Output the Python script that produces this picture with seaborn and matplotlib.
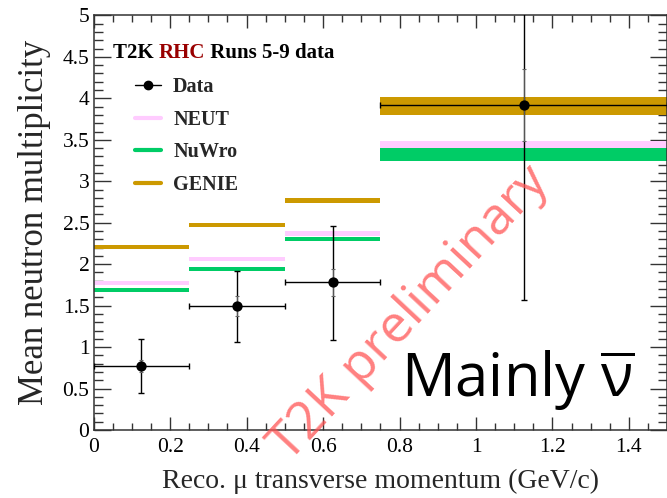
import numpy as np
import pandas as pd
import matplotlib
matplotlib.use("Agg")
import matplotlib.pyplot as plt
import seaborn as sns
from matplotlib.lines import Line2D
from matplotlib.ticker import MultipleLocator

# ---------------- data ----------------
bin_lo = [0.0, 0.25, 0.5, 0.75]
bin_hi = [0.25, 0.5, 0.75, 1.5]
bin_center = [0.125, 0.375, 0.625, 1.125]

data_y = [0.775, 1.50, 1.78, 3.92]
data_err_low = [0.33, 0.44, 0.69, 2.35]
data_err_high = [0.32, 0.42, 0.68, 1.55]
data_stat_err = [0.07, 0.12, 0.16, 0.43]

neut_y = [1.77, 2.06, 2.37, 3.445]
neut_hw = [0.025, 0.022, 0.027, 0.045]
nuwro_y = [1.69, 1.94, 2.30, 3.32]
nuwro_hw = [0.02, 0.022, 0.026, 0.08]
genie_y = [2.21, 2.475, 2.77, 3.91]
genie_hw = [0.022, 0.024, 0.032, 0.11]

legend_labels = ["Data", "NEUT", "NuWro", "GENIE"]
colors = {"NEUT": "#ffccff", "NuWro": "#00cc66", "GENIE": "#cc9900"}

x_label = "Reco. \u03bc transverse momentum (GeV/c)"
y_label = "Mean neutron multiplicity"

# ---------------- style ----------------
sns.set_theme(style="ticks")
plt.rcParams["font.family"] = ["Liberation Serif", "DejaVu Serif"]
plt.rcParams["mathtext.fontset"] = "custom"
plt.rcParams["mathtext.rm"] = "Open Sans"
plt.rcParams["mathtext.it"] = "Open Sans:italic"

fig = plt.figure(figsize=(6.67, 4.98), dpi=100)
ax = fig.add_axes([0.1403, 0.1365, 0.860, 0.8325])

df = pd.DataFrame({"x": bin_center, "y": data_y})

# model bands
for name, yv, hw in [("NEUT", neut_y, neut_hw), ("NuWro", nuwro_y, nuwro_hw), ("GENIE", genie_y, genie_hw)]:
    for lo, hi, c, h in zip(bin_lo, bin_hi, yv, hw):
        ax.fill_between([lo, hi], [c - h, c - h], [c + h, c + h], color=colors[name], lw=0, zorder=2)

# data error bars
xerr = [np.array(bin_center) - np.array(bin_lo), np.array(bin_hi) - np.array(bin_center)]
ax.errorbar(bin_center, data_y, xerr=xerr, yerr=[data_err_low, data_err_high], fmt="none",
            ecolor="black", elinewidth=1.0, capsize=2.5, capthick=1.0, zorder=4)
ax.errorbar(bin_center, data_y, yerr=data_stat_err, fmt="none", ecolor="#666666",
            elinewidth=0.6, capsize=1.5, capthick=0.8, zorder=4)
sns.scatterplot(data=df, x="x", y="y", ax=ax, color="black", s=55, edgecolor="black",
                linewidth=0, zorder=5, legend=False)

ax.set_xlim(0, 1.5)
ax.set_ylim(0, 5)
ax.set_xlabel(x_label, fontsize=20, labelpad=8)
ax.set_ylabel(y_label, fontsize=25, labelpad=8)

ax.xaxis.set_major_locator(MultipleLocator(0.2))
ax.xaxis.set_minor_locator(MultipleLocator(0.05))
ax.yaxis.set_major_locator(MultipleLocator(0.5))
ax.yaxis.set_minor_locator(MultipleLocator(0.1))
ax.set_xticks([0, 0.2, 0.4, 0.6, 0.8, 1.0, 1.2, 1.4])
ax.set_xticklabels(["0", "0.2", "0.4", "0.6", "0.8", "1", "1.2", "1.4"])
ax.set_yticks([0, 0.5, 1, 1.5, 2, 2.5, 3, 3.5, 4, 4.5, 5])
ax.set_yticklabels(["0", "0.5", "1", "1.5", "2", "2.5", "3", "3.5", "4", "4.5", "5"])
ax.tick_params(axis="both", which="both", direction="in", top=True, right=True,
               labelsize=15.5, colors="#333333", labelcolor="black", width=1.0)
ax.tick_params(axis="x", which="major", length=9.5, pad=6)
ax.tick_params(axis="x", which="minor", length=5)
ax.tick_params(axis="y", which="major", length=12, pad=3)
ax.tick_params(axis="y", which="minor", length=6.5)
for s in ax.spines.values():
    s.set_visible(True)
    s.set_color("#333333")
    s.set_linewidth(1.1)

# legend
handles = [
    Line2D([0], [0], color="black", lw=1.0, marker="o", markersize=6),
    Line2D([0], [0], color=colors["NEUT"], lw=3),
    Line2D([0], [0], color=colors["NuWro"], lw=3),
    Line2D([0], [0], color=colors["GENIE"], lw=3),
]
leg = ax.legend(handles, legend_labels, loc="upper left", bbox_to_anchor=(0.072, 0.851),
                frameon=False, borderpad=0, borderaxespad=0, handlelength=1.3,
                handletextpad=0.6, labelspacing=0.62,
                prop={"family": "Liberation Serif", "weight": "bold", "size": 14.5})

# header with mixed colours
fig.canvas.draw()
r = fig.canvas.get_renderer()
hy = 0.909
t1 = ax.text(0.034, hy, "T2K ", transform=ax.transAxes, fontsize=15, fontweight="bold",
             va="center", ha="left", color="black")
bb = t1.get_window_extent(r)
inv = ax.transAxes.inverted()
x2 = inv.transform((bb.x1, bb.y0))[0]
t2 = ax.text(x2, hy, "RHC", transform=ax.transAxes, fontsize=15, fontweight="bold",
             va="center", ha="left", color="#990000")
bb = t2.get_window_extent(r)
x3 = inv.transform((bb.x1, bb.y0))[0]
ax.text(x3, hy, " Runs 5-9 data", transform=ax.transAxes, fontsize=15, fontweight="bold",
        va="center", ha="left", color="black")

# watermark
ax.text(0.551, 0.28, "T2K preliminary", transform=ax.transAxes, fontsize=37.5,
        family="Open Sans", color="#ff5555", alpha=0.75, rotation=47,
        ha="center", va="center", rotation_mode="anchor", zorder=6)

# big label
ax.text(0.536, 0.0796, r"Mainly $\overline{\mathrm{\nu}}$", transform=ax.transAxes,
        fontsize=43, family="Open Sans", color="black", ha="left", va="baseline", zorder=7)

fig.savefig("out.png", dpi=100)
